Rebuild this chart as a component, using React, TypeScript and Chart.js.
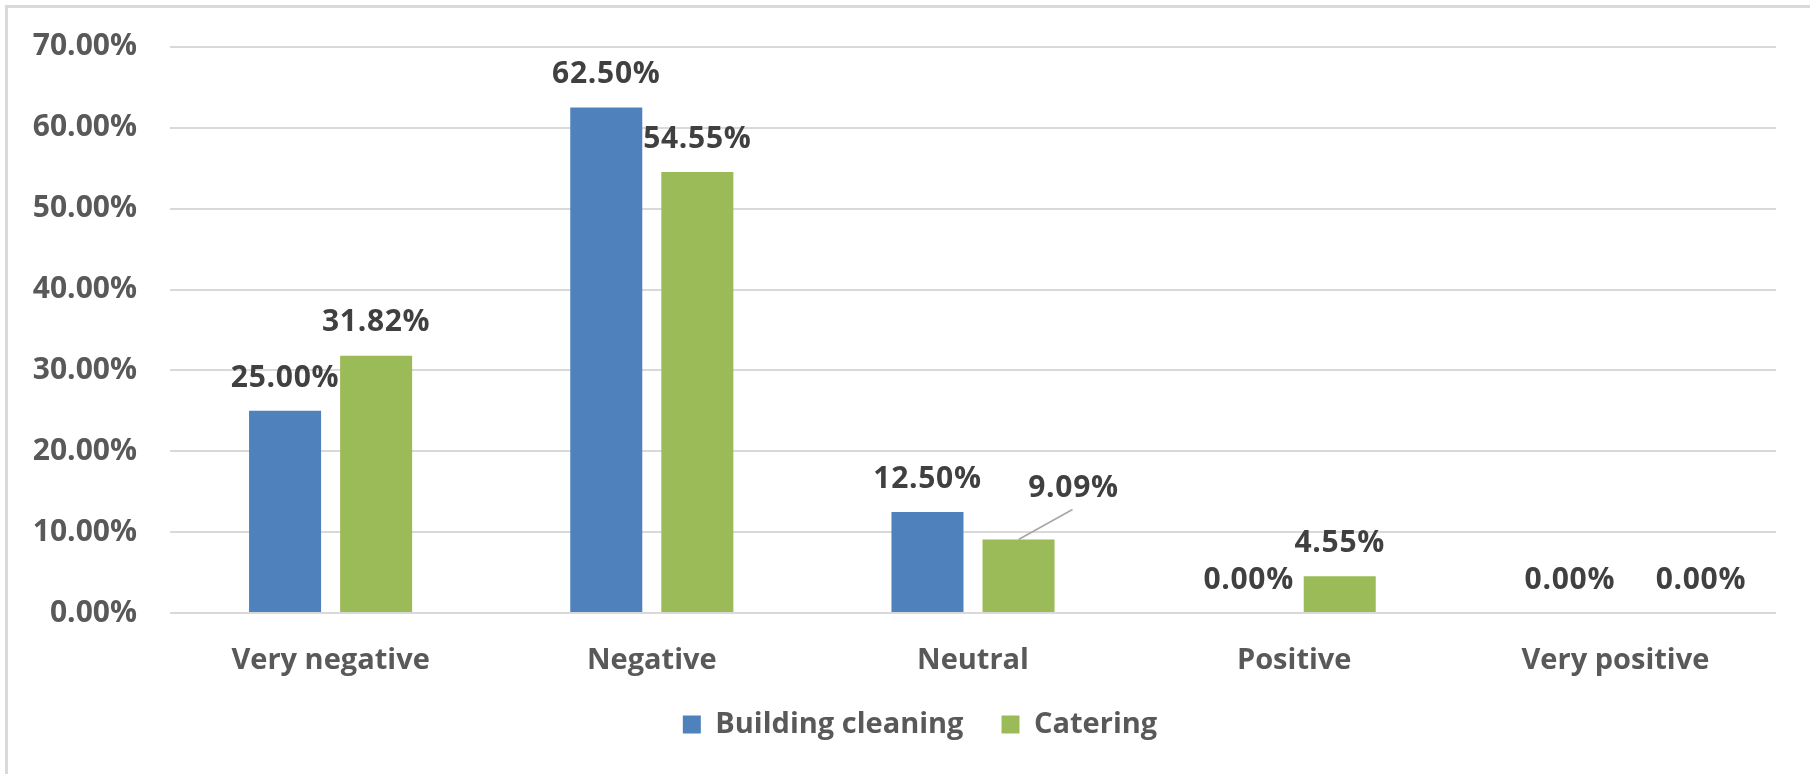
import React, { useEffect, useRef } from "react";
import { Chart, registerables } from "chart.js";

Chart.register(...registerables);

const categories = ["Very negative", "Negative", "Neutral", "Positive", "Very positive"];
const seriesNames = ["Building cleaning", "Catering"];
const buildingCleaning = [25.0, 62.5, 12.5, 0.0, 0.0];
const catering = [31.82, 54.55, 9.09, 4.55, 0.0];
const yMax = 70;
const yStep = 10;

const FONT = '"Open Sans", "DejaVu Sans", sans-serif';
const AXIS_COLOR = "#595959";
const LABEL_COLOR = "#404040";
const GRID_COLOR = "#D9D9D9";
const BLUE = "#4F81BD";
const GREEN = "#9BBB59";

// label placement tweaks (datasetIndex-categoryIndex keyed)
const labelOffsets: Record<string, { dx: number; dy: number; leader: boolean }> = {
  "1-2": { dx: 55, dy: -18, leader: true },
  "1-4": { dx: 40, dy: 0, leader: false },
};

const dataLabelPlugin = {
  id: "dataLabels",
  afterDatasetsDraw(chart: any) {
    const ctx = chart.ctx;
    const size = 30;
    ctx.save();
    ctx.font = `700 ${size}px ${FONT}`;
    try {
      (ctx as any).letterSpacing = "0.7px";
    } catch (e) {}
    ctx.fillStyle = LABEL_COLOR;
    ctx.textAlign = "center";
    ctx.textBaseline = "alphabetic";
    chart.data.datasets.forEach((ds: any, di: number) => {
      const meta = chart.getDatasetMeta(di);
      meta.data.forEach((bar: any, i: number) => {
        const v = Number(ds.data[i]);
        const off = labelOffsets[`${di}-${i}`];
        const cx = bar.x + (off ? off.dx : 0);
        const cy = bar.y - 35 + (off ? off.dy : 0);
        if (off && off.leader) {
          ctx.save();
          ctx.strokeStyle = "#A6A6A6";
          ctx.lineWidth = 1.5;
          ctx.beginPath();
          ctx.moveTo(bar.x, bar.y);
          ctx.lineTo(cx - 1, cy + 23);
          ctx.stroke();
          ctx.restore();
        }
        ctx.fillText(v.toFixed(2) + "%", cx, cy + 0.357 * size);
      });
    });
    ctx.restore();
  },
};

const framePlugin = {
  id: "frame",
  beforeDraw(chart: any) {
    const ctx = chart.ctx;
    ctx.save();
    ctx.fillStyle = "#FFFFFF";
    ctx.fillRect(0, 0, chart.width, chart.height);
    ctx.strokeStyle = GRID_COLOR;
    ctx.lineWidth = 3;
    ctx.strokeRect(6.5, 6.5, chart.width + 50, chart.height + 50);
    ctx.restore();
  },
};

const legendShiftPlugin = {
  id: "legendShift",
  afterLayout(chart: any) {
    const lg = chart.legend;
    if (lg) {
      lg.left += 32;
      lg.right += 32;
      lg.top -= 9;
      lg.bottom -= 9;
    }
  },
};

export default function App() {
  const ref = useRef<HTMLCanvasElement | null>(null);

  useEffect(() => {
    document.body.style.margin = "0";
    if (!ref.current) return;
    const chart = new Chart(ref.current, {
      type: "bar",
      data: {
        labels: categories,
        datasets: [
          {
            label: seriesNames[0],
            data: buildingCleaning,
            backgroundColor: BLUE,
            categoryPercentage: 0.567,
            barPercentage: 0.791,
          },
          {
            label: seriesNames[1],
            data: catering,
            backgroundColor: GREEN,
            categoryPercentage: 0.567,
            barPercentage: 0.791,
          },
        ],
      },
      options: {
        responsive: false,
        animation: false,
        layout: { padding: { left: 0, right: 34, top: 40, bottom: 16 } },
        plugins: {
          legend: {
            position: "bottom",
            labels: {
              boxWidth: 18,
              boxHeight: 18,
              padding: 38,
              color: AXIS_COLOR,
              font: { family: FONT, size: 29, weight: "bold" },
            },
          },
          tooltip: { enabled: false },
        },
        scales: {
          x: {
            grid: { display: false, drawTicks: false },
            border: { display: false },
            ticks: {
              color: AXIS_COLOR,
              padding: 30,
              font: { family: FONT, size: 29, weight: "bold" },
            },
            afterFit: (s: any) => {
              s.height = 68;
            },
          },
          y: {
            min: 0,
            max: yMax,
            ticks: {
              stepSize: yStep,
              color: AXIS_COLOR,
              padding: 33,
              font: { family: FONT, size: 30, weight: "bold", lineHeight: 0.93 },
              callback: (v: any) => Number(v).toFixed(2) + "%",
            },
            grid: { color: GRID_COLOR, lineWidth: 2, drawTicks: false },
            border: { display: false },
            afterFit: (s: any) => {
              s.width = 170;
            },
          },
        },
      },
      plugins: [framePlugin, legendShiftPlugin, dataLabelPlugin],
    });
    if ((document as any).fonts && (document as any).fonts.load) {
      (document as any).fonts.load(`700 30px "Open Sans"`).then(() => chart.update()).catch(() => {});
    }
    return () => chart.destroy();
  }, []);

  return (
    <div style={{ position: "absolute", left: 0, top: 0, width: 1810, height: 774 }}>
      <canvas ref={ref} width={1810} height={774} />
    </div>
  );
}
